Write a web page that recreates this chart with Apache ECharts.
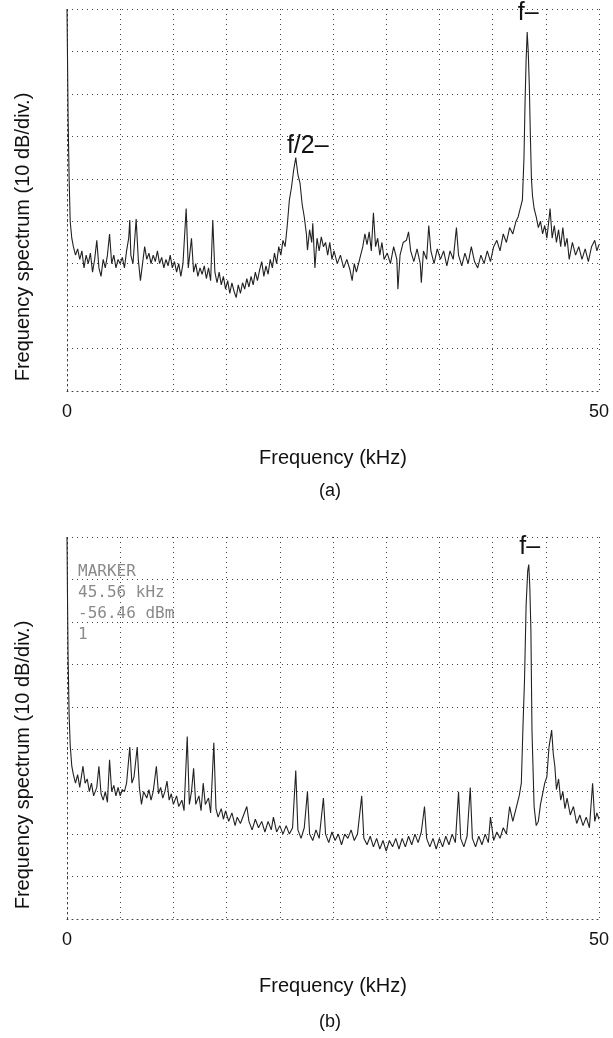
<!DOCTYPE html>
<html>
<head>
<meta charset="utf-8">
<script src="https://cdn.jsdelivr.net/npm/echarts@6/dist/echarts.min.js"></script>
<style>
  html, body { margin: 0; padding: 0; background: #fff; }
  #chart { width: 613px; height: 1038px; }
</style>
</head>
<body>
<div id="chart"></div>
<script>
// x 轴：频率 (kHz)，y 轴：dB，10 dB/div
const freqTicks = [0, 50]
const levelRange = [-140, -50]

// (a) 频谱，[频率 kHz, 电平 dB]
const traceA = [
  [0, -50], [0.05, -62], [0.1, -75], [0.2, -90], [0.3, -100], [0.45, -104], [0.6, -106], [0.8, -108],
  [1.0, -106.5], [1.2, -109], [1.4, -107], [1.6, -111], [1.8, -108], [2.0, -110], [2.2, -107.5], [2.4, -112],
  [2.6, -109], [2.8, -104.5], [3.0, -111], [3.2, -113], [3.4, -109], [3.6, -111], [3.8, -108], [4.0, -103],
  [4.2, -110], [4.4, -108], [4.6, -111], [4.8, -109], [5.0, -110], [5.2, -108.5], [5.4, -111], [5.6, -107],
  [5.8, -104], [5.9, -99.7], [6.0, -108], [6.2, -110], [6.5, -99.5], [6.7, -109], [6.9, -114], [7.1, -110],
  [7.3, -106], [7.5, -109], [7.7, -107.5], [7.9, -110], [8.1, -108], [8.3, -109.5], [8.5, -107], [8.7, -110],
  [8.9, -108.5], [9.1, -111], [9.3, -109], [9.5, -110.5], [9.7, -108], [9.9, -111], [10.1, -109.5], [10.3, -112],
  [10.5, -110], [10.7, -113], [10.9, -110], [11.2, -97], [11.4, -111], [11.7, -104], [11.9, -112], [12.1, -110],
  [12.3, -113], [12.5, -111], [12.7, -112.5], [12.9, -110.5], [13.1, -113.5], [13.3, -111], [13.5, -114], [13.7, -99.7],
  [13.9, -112], [14.1, -114.5], [14.3, -112], [14.5, -115], [14.7, -113], [14.9, -116], [15.1, -114], [15.3, -117],
  [15.5, -114.5], [15.7, -116.5], [15.9, -118], [16.1, -115], [16.3, -117], [16.5, -114.5], [16.7, -116], [16.9, -113.5],
  [17.1, -115.5], [17.3, -113], [17.5, -115], [17.7, -112], [17.9, -114], [18.1, -111.5], [18.3, -109.5], [18.5, -113],
  [18.7, -110.5], [18.9, -112.5], [19.1, -109], [19.3, -111], [19.5, -107.5], [19.7, -110], [19.9, -106], [20.1, -108],
  [20.3, -104.5], [20.5, -106], [20.7, -101], [20.9, -95], [21.1, -92], [21.3, -88], [21.5, -85], [21.7, -89],
  [21.9, -91], [22.1, -96], [22.3, -99], [22.5, -103], [22.6, -106.8], [22.8, -102], [23.0, -105], [23.1, -100.5],
  [23.3, -111], [23.5, -104], [23.7, -107], [23.9, -103.7], [24.1, -106], [24.3, -105], [24.5, -108], [24.7, -105],
  [24.9, -109], [25.1, -107], [25.4, -110], [25.7, -108], [26.0, -111], [26.3, -109], [26.6, -111.5], [26.8, -114],
  [27.0, -110], [27.2, -112], [27.5, -109], [27.8, -106], [28.0, -103], [28.2, -105.5], [28.4, -102.5], [28.6, -107],
  [28.8, -98], [29.0, -106], [29.2, -104], [29.4, -108], [29.6, -105], [29.8, -109], [30.1, -107.5], [30.4, -110],
  [30.7, -106], [31.0, -109], [31.1, -116], [31.3, -108], [31.6, -105], [31.9, -104.5], [32.1, -102.5], [32.3, -107],
  [32.6, -109.5], [32.9, -106.5], [33.2, -110], [33.3, -114.5], [33.5, -107], [33.8, -109], [34.0, -101], [34.2, -107],
  [34.5, -110], [34.8, -106.5], [35.1, -109], [35.4, -107], [35.7, -110.5], [36.0, -107], [36.3, -109], [36.6, -101.5],
  [36.8, -108], [37.1, -110.5], [37.4, -107.5], [37.7, -110], [38.0, -106], [38.3, -109.5], [38.6, -111], [38.9, -108],
  [39.2, -110], [39.5, -107], [39.8, -109.5], [40.1, -106], [40.4, -104.5], [40.7, -107], [41.0, -103], [41.3, -105],
  [41.6, -101.5], [41.9, -103], [42.2, -100], [42.4, -99], [42.6, -97], [42.8, -95], [42.95, -85], [43.05, -72],
  [43.15, -62], [43.25, -55.4], [43.35, -60], [43.45, -68], [43.55, -80], [43.65, -90], [43.75, -94], [43.9, -97],
  [44.1, -99], [44.3, -101.5], [44.5, -100], [44.7, -103], [44.9, -101], [45.1, -104], [45.3, -99.5], [45.4, -97],
  [45.6, -104], [45.8, -101], [46.0, -105], [46.2, -102], [46.4, -106], [46.6, -101.5], [46.8, -106], [47.0, -104],
  [47.2, -109], [47.5, -105], [47.8, -108], [48.1, -106], [48.4, -109], [48.7, -106.5], [49.0, -109.5], [49.3, -106],
  [49.6, -104.5], [49.8, -107], [50.0, -105.5]
]

// (b) 频谱
const traceB = [
  [0, -50], [0.05, -65], [0.1, -78], [0.2, -92], [0.3, -99], [0.45, -104], [0.6, -106], [0.8, -108],
  [1.0, -106], [1.2, -109], [1.5, -104], [1.7, -108], [1.9, -107], [2.1, -110], [2.3, -108], [2.5, -111],
  [2.8, -109], [3.0, -104], [3.2, -110.5], [3.4, -112], [3.6, -110], [3.8, -112.5], [4.0, -102.5], [4.2, -110],
  [4.4, -108.5], [4.6, -111], [4.8, -109], [5.0, -111], [5.2, -109.5], [5.4, -110], [5.6, -108], [5.9, -99.5],
  [6.1, -108], [6.3, -106.5], [6.6, -99.5], [6.8, -109], [7.0, -113], [7.2, -110], [7.5, -111.5], [7.7, -109.5],
  [7.9, -112], [8.1, -110], [8.4, -104], [8.6, -110.5], [8.8, -109], [9.0, -111.5], [9.2, -110], [9.4, -107.5],
  [9.6, -112], [9.8, -110.5], [10.0, -113], [10.3, -111], [10.5, -113.5], [10.8, -112], [11.0, -114.5], [11.3, -97],
  [11.5, -113], [11.7, -110], [11.9, -104.5], [12.1, -113], [12.4, -111], [12.6, -114.5], [12.8, -108], [13.0, -113],
  [13.3, -111.5], [13.5, -115], [13.8, -98.5], [14.0, -114], [14.2, -116], [14.5, -114], [14.7, -116.5], [14.9, -114.5],
  [15.2, -117], [15.5, -115], [15.8, -118], [16.0, -116], [16.3, -117.5], [16.6, -115.5], [16.9, -113.5], [17.1, -117],
  [17.4, -119], [17.7, -116.5], [18.0, -118.5], [18.3, -117], [18.6, -119.5], [18.9, -117], [19.2, -119], [19.4, -116],
  [19.7, -119.5], [20.0, -118], [20.3, -120], [20.6, -118], [20.9, -120], [21.2, -118.5], [21.5, -105], [21.7, -119],
  [22.0, -121], [22.3, -118.5], [22.6, -110], [22.8, -120], [23.1, -121.5], [23.4, -119], [23.7, -121], [24.1, -111.5],
  [24.3, -120], [24.6, -122], [24.9, -119.5], [25.2, -121.5], [25.5, -120], [25.8, -122.5], [26.1, -120], [26.4, -121],
  [26.7, -119], [27.0, -121.5], [27.3, -120], [27.7, -111], [27.9, -121], [28.2, -122.5], [28.5, -120.5], [28.8, -123],
  [29.1, -121], [29.4, -123.5], [29.7, -121.5], [30.0, -124], [30.3, -121.5], [30.6, -123], [30.9, -121], [31.2, -123.5],
  [31.5, -121], [31.8, -123], [32.1, -120.5], [32.4, -122.5], [32.7, -120], [33.0, -122], [33.3, -119.5], [33.6, -113.5],
  [33.8, -121], [34.1, -123], [34.4, -121], [34.7, -123.5], [35.0, -121], [35.3, -123], [35.6, -120.5], [35.9, -122.5],
  [36.2, -120], [36.5, -122], [36.8, -110], [37.0, -121], [37.3, -123], [37.6, -120.5], [37.9, -109], [38.1, -121],
  [38.4, -123], [38.7, -120.5], [39.0, -122.5], [39.3, -120], [39.6, -122], [39.8, -116], [40.1, -121.5], [40.4, -119.5],
  [40.7, -121], [41.0, -118.5], [41.3, -120], [41.6, -113.5], [41.9, -117], [42.2, -114], [42.5, -111], [42.7, -108],
  [42.85, -95], [43.0, -83.7], [43.15, -66], [43.3, -58], [43.4, -56.5], [43.5, -62], [43.6, -72], [43.7, -95.5],
  [43.9, -113.5], [44.1, -118], [44.3, -117], [44.5, -113], [44.7, -110.5], [44.9, -108], [45.1, -106.5], [45.3, -99.5],
  [45.55, -95.5], [45.7, -101], [45.85, -104], [46.0, -109.5], [46.2, -107], [46.4, -112], [46.6, -110], [46.8, -114],
  [47.0, -111.5], [47.3, -115.5], [47.6, -113.5], [47.9, -117.5], [48.2, -115.5], [48.5, -118], [48.8, -116], [49.1, -118.5],
  [49.4, -108], [49.6, -117], [49.8, -115], [50.0, -116.5]
]

// 频谱仪屏幕上的 marker 读数
const markerLines = ['MARKER', '45.56 kHz', '-56.46 dBm', '1']

const font = 'Liberation Sans, Arial, sans-serif'
const dots = { color: '#444', type: [1, 4], width: 1 }

// 找某频段内的峰值点
function peakIn(trace, lo, hi) {
  let best = null
  trace.forEach(p => {
    if (p[0] >= lo && p[0] <= hi && (!best || p[1] > best[1])) best = p
  })
  return best
}

function peakLabel(point, text, offset) {
  return {
    coord: point,
    symbol: 'circle',
    symbolSize: 1,
    itemStyle: { color: 'transparent' },
    label: {
      show: true, position: 'inside', formatter: text, offset: offset,
      fontSize: 25, color: '#111', fontFamily: font
    }
  }
}

function freqAxis(i) {
  return {
    type: 'value', gridIndex: i, min: 0, max: 50, interval: 5,
    name: 'Frequency (kHz)', nameLocation: 'middle', nameGap: 57,
    nameTextStyle: { fontSize: 20, color: '#111', fontFamily: font },
    axisLine: { show: true, lineStyle: dots },
    axisTick: { show: false },
    axisLabel: {
      fontSize: 18, color: '#111', fontFamily: font, margin: 12,
      showMinLabel: true, showMaxLabel: true,
      formatter: v => freqTicks.includes(v) ? String(v) : ''
    },
    splitLine: { show: true, lineStyle: dots }
  }
}

function levelAxis(i) {
  return {
    type: 'value', gridIndex: i, min: levelRange[0], max: levelRange[1], interval: 10,
    name: 'Frequency spectrum (10 dB/div.)', nameLocation: 'middle', nameGap: 34, nameRotate: 90,
    nameTextStyle: { fontSize: 20, color: '#111', fontFamily: font, padding: [0, 74, 0, 0] },
    axisLine: { show: true, lineStyle: dots },
    axisTick: { show: false },
    axisLabel: { show: false },
    splitLine: { show: true, lineStyle: dots }
  }
}

function traceSeries(i, trace, marks) {
  return {
    type: 'line', xAxisIndex: i, yAxisIndex: i,
    data: trace, showSymbol: false, animation: false,
    lineStyle: { color: '#222', width: 1.1 },
    markPoint: { animation: false, data: marks }
  }
}

const chart = echarts.init(document.getElementById('chart'))
chart.setOption({
  backgroundColor: '#fff',
  animation: false,
  grid: [
    { left: 67, top: 9, width: 532, height: 382 },
    { left: 67, top: 537, width: 532, height: 382 }
  ],
  xAxis: [freqAxis(0), freqAxis(1)],
  yAxis: [levelAxis(0), levelAxis(1)],
  series: [
    traceSeries(0, traceA, [
      peakLabel(peakIn(traceA, 15, 30), 'f/2–', [12, -11]),
      peakLabel(peakIn(traceA, 40, 50), 'f–', [1, -19])
    ]),
    traceSeries(1, traceB, [
      peakLabel(peakIn(traceB, 40, 50), 'f–', [1, -17])
    ])
  ],
  graphic: [
    { type: 'text', x: 330, y: 491, style: { text: '(a)', fontSize: 18, fill: '#111', fontFamily: font, align: 'center', verticalAlign: 'middle' } },
    { type: 'text', x: 330, y: 1022, style: { text: '(b)', fontSize: 18, fill: '#111', fontFamily: font, align: 'center', verticalAlign: 'middle' } },
    {
      type: 'text', left: 78, top: 561,
      style: {
        text: markerLines.join('\n'), fontSize: 16, lineHeight: 21,
        fill: '#8a8a8a', fontFamily: 'DejaVu Sans Mono, monospace'
      }
    }
  ]
})
</script>
</body>
</html>
